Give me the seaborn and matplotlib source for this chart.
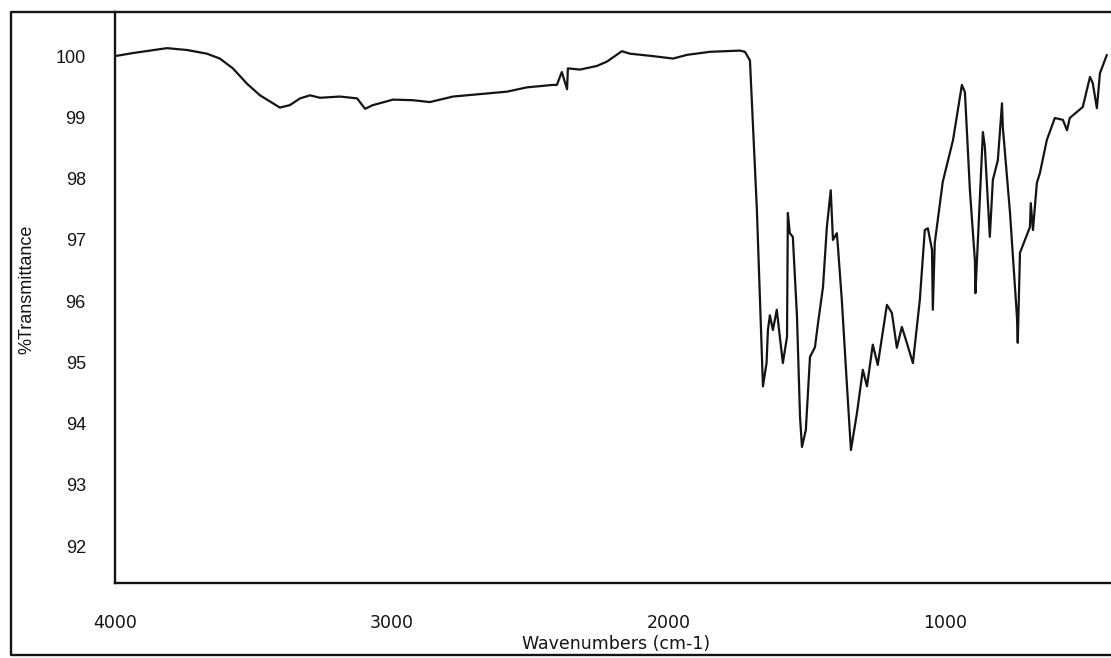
import numpy as np
import pandas as pd
import matplotlib
matplotlib.use("Agg")
import matplotlib.pyplot as plt
from matplotlib.lines import Line2D
from matplotlib import font_manager
import seaborn as sns

# FT-IR spectrum: wavenumber (cm-1) and % transmittance
wavenumber = [
    4000, 3935, 3812, 3740, 3668, 3621, 3574, 3523, 3476, 3404,
    3368, 3331, 3295, 3259, 3187, 3125, 3096, 3068, 2995, 2923,
    2862, 2778, 2656, 2583, 2511, 2417, 2403, 2385, 2366, 2363,
    2319, 2258, 2222, 2168, 2139, 2056, 1983, 1933, 1850, 1741,
    1723, 1705, 1680, 1658, 1645, 1640, 1633, 1622, 1608, 1597,
    1586, 1571, 1568, 1561, 1550, 1535, 1524, 1517, 1503, 1488,
    1470, 1459, 1441, 1427, 1413, 1405, 1391, 1387, 1373, 1355,
    1340, 1318, 1297, 1282, 1261, 1243, 1210, 1192, 1174, 1156,
    1138, 1116, 1091, 1073, 1062, 1047, 1044, 1037, 1008, 971,
    939, 928, 910, 892, 890, 881, 863, 856, 838, 827,
    809, 794, 791, 765, 740, 737, 729, 711, 693, 690,
    682, 668, 657, 632, 603, 574, 559, 549, 502, 476,
    466, 451, 440, 415,
]
transmittance = [
    100.00, 100.05, 100.13, 100.10, 100.04, 99.96, 99.80, 99.55, 99.36, 99.16,
    99.20, 99.31, 99.36, 99.32, 99.34, 99.31, 99.14, 99.20, 99.29, 99.28,
    99.25, 99.34, 99.39, 99.42, 99.49, 99.53, 99.53, 99.74, 99.46, 99.80,
    99.78, 99.84, 99.91, 100.08, 100.04, 100.00, 99.96, 100.02, 100.07, 100.09,
    100.07, 99.93, 97.50, 94.61, 94.99, 95.53, 95.77, 95.53, 95.86, 95.42,
    94.99, 95.42, 97.44, 97.11, 97.05, 95.75, 94.11, 93.62, 93.90, 95.09,
    95.25, 95.64, 96.23, 97.21, 97.81, 97.00, 97.11, 96.89, 96.02, 94.67,
    93.57, 94.18, 94.88, 94.61, 95.29, 94.96, 95.94, 95.81, 95.24, 95.58,
    95.32, 94.99, 96.02, 97.16, 97.19, 96.84, 95.86, 96.95, 97.95, 98.63,
    99.53, 99.41, 97.81, 96.67, 96.13, 97.00, 98.76, 98.52, 97.05, 97.98,
    98.30, 99.23, 98.84, 97.44, 95.75, 95.32, 96.79, 97.00, 97.21, 97.60,
    97.16, 97.93, 98.09, 98.63, 98.99, 98.96, 98.79, 98.99, 99.17, 99.66,
    99.56, 99.15, 99.72, 100.02,
]

x_ticks = [4000, 3000, 2000, 1000]
x_tick_labels = ["4000", "3000", "2000", "1000"]
y_ticks = [92, 93, 94, 95, 96, 97, 98, 99, 100]
y_tick_labels = ["92", "93", "94", "95", "96", "97", "98", "99", "100"]

df = pd.DataFrame({"Wavenumber": wavenumber, "Transmittance": transmittance})

sns.set_style("white")
plt.rcParams["font.family"] = ["Liberation Sans", "DejaVu Sans"]

# narrower face for the x-axis text, if available
installed = {f.name for f in font_manager.fontManager.ttflist}
narrow = "Liberation Sans Narrow" if "Liberation Sans Narrow" in installed else "DejaVu Sans"
narrow_size = 15 if narrow == "Liberation Sans Narrow" else 12.5

ink = "#141414"
W, H = 1111, 658
fig = plt.figure(figsize=(W / 100, H / 100), dpi=100)
ax_left, ax_right = 115 / W, 1.0
ax_bottom, ax_top = 1 - 583 / H, 1 - 12 / H
ax = fig.add_axes([ax_left, ax_bottom, ax_right - ax_left, ax_top - ax_bottom])

sns.lineplot(data=df, x="Wavenumber", y="Transmittance", ax=ax,
             sort=False, estimator=None, color=ink, linewidth=1.6)

ax.set_xlim(4000, 400)
ax.set_ylim(91.40, 100.72)
ax.set_xticks(x_ticks)
ax.set_xticklabels(x_tick_labels, fontfamily=narrow, fontsize=narrow_size)
ax.set_yticks(y_ticks)
ax.set_yticklabels(y_tick_labels, fontsize=13)
ax.tick_params(axis="both", length=0, colors=ink)
ax.tick_params(axis="y", pad=21)
ax.tick_params(axis="x", pad=22)

ax.set_xlabel("Wavenumbers (cm-1)", fontfamily=narrow, fontsize=narrow_size, color=ink)
ax.set_ylabel("%Transmittance", fontsize=13, color=ink)
ax.xaxis.set_label_coords((616 - 115) / (W - 115), -(635 - 583) / (583 - 12))
ax.yaxis.set_label_coords(-(115 - 35) / (W - 115), (583 - 289) / (583 - 12))

for side in ("top", "left", "bottom"):
    ax.spines[side].set_color(ink)
    ax.spines[side].set_linewidth(1.7)
ax.spines["right"].set_visible(False)
ax.grid(False)

# outer frame around the plotting area
fx = 11 / W
fy_bot = 1 - 655 / H
fy_top = 1 - 12 / H
fig.add_artist(Line2D([1.0, fx, fx, ax_left], [fy_bot, fy_bot, fy_top, fy_top],
                      transform=fig.transFigure, color=ink, linewidth=1.7))

fig.savefig("out.png", dpi=100, facecolor="white")
